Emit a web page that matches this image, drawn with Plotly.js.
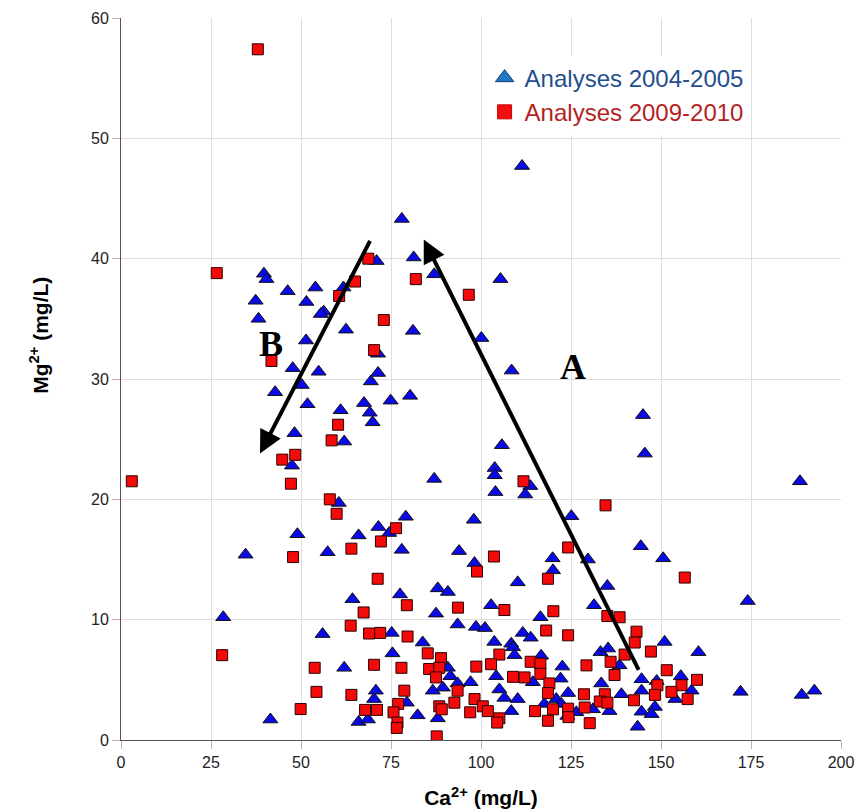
<!DOCTYPE html>
<html>
<head>
<meta charset="utf-8">
<script src="https://cdn.plot.ly/plotly-3.0.1.min.js"></script>
<style>html,body{margin:0;padding:0;background:#fff;}#chart{width:857px;height:812px;}</style>
</head>
<body>
<div id="chart"></div>
<script>
// Analyses 2004-2005 (blue triangles)
const blueCa = [111.4,78,81.3,71,87,105.4,81.1,100.1,108.5,71.4,71.4,69.4,80.3,74.9,67.5,69.1,69.9,105.8,103.8,103.8,87,113.7,104,112.3,
 39.7,40.4,46.3,54,61.8,37.4,51.5,56.3,55.5,38.2,62.5,51.4,47.7,54.9,50.2,42.8,51.8,61,48.2,62,47.5,
 60.5,49,66,71.5,34.6,57.4,64.3,28.4,56,62,70.8,70.3,41.5,66,68.6,
 79.1,74.5,98,78,93.9,98.2,119.9,120,110.2,88,90.8,77.5,87.5,102.8,116.5,93.5,98.6,101.1,111.6,113.8,75.2,83.8,103.7,108.4,108.9,75.4,109.3,116.7,90.8,122.6,104.2,91.5,122.1,114.4,97.1,93.5,89.4,86.6,105.1,124.2,106.5,110.2,79.4,120.9,117.6,124,82.4,88,108.4,
 145,145.5,188.6,125.1,144.4,129.7,150.6,135.1,131.4,151,160.4,133.2,135.3,138.5,144.6,148.8,155.5,133.4,144.6,158.5,154,139,148.3,122.3,126.5,135.7,144.6,131.1,147.4,143.5,174.1,172.1,189.1,192.6];
const blueMg = [47.7,43.3,40.1,39.8,38.7,38.3,34.0,33.4,30.7,32.1,30.5,29.8,28.6,28.2,28.0,27.2,26.4,24.5,22.6,22.0,21.7,21.1,20.6,20.4,
 38.75,38.3,37.3,37.6,37.6,36.5,36.4,35.6,35.4,35.0,34.1,33.2,30.9,30.6,29.5,28.9,27.9,27.4,25.5,24.8,22.8,
 19.7,17.1,17.0,17.7,15.4,15.6,11.7,10.2,8.8,6.0,4.1,3.4,1.7,1.5,1.7,
 18.55,17.2,18.3,15.8,15.7,14.7,15.1,14.1,13.1,12.6,12.3,12.1,10.5,11.2,10.2,9.6,9.4,9.3,8.9,8.5,8.9,8.1,8.15,8.0,7.7,7.2,7.05,7.0,6.0,6.1,5.3,5.3,5.1,4.8,4.8,4.7,4.35,4.1,4.2,3.9,3.5,3.4,3.1,3.4,3.0,2.0,2.05,1.8,2.4,
 27.0,23.8,21.5,18.6,16.1,15.0,15.1,12.8,11.2,8.15,7.3,7.3,7.6,6.2,5.05,4.9,5.3,4.7,4.1,4.1,3.4,3.8,2.75,3.0,2.3,2.4,2.35,2.55,2.15,1.1,11.55,4.0,3.75,4.1];

// Analyses 2009-2010 (red squares)
const redCa = [38,26.6,65,60.6,68.7,41.8,60.3,58.5,48.4,44.8,47.2,3,58,81.9,96.6,73,70.3,111.8,134.6,
 59.9,64,47.8,72.2,71.3,67.4,63.8,68.9,72,28.1,70.3,53.8,54.3,64,49.9,67.8,71.1,
 76.4,103.6,98.9,118.6,124.2,79.4,93.6,106.5,120.1,118.1,124.2,79.6,85.2,88.9,105.1,113.8,116.5,77.9,85.6,88.4,98.7,102.8,108.9,112.1,116.5,87.5,119,78.7,93.5,118.6,98.2,77,75.7,92.6,88.4,89.1,100.5,101.9,120,124.2,97,115,105.1,104.5,118.6,76.8,76.6,87.7,
 156.6,135.1,138.5,143.2,142.7,147.2,139.9,129.3,136,137.1,151.6,160,149,155.7,152.9,148.3,157.4,128.6,134.4,133,135.1,142.5,128.8,124.3,130.2];
const redMg = [57.4,38.8,38.1,36.9,40.0,31.5,26.2,24.9,23.7,23.3,21.3,21.5,20.0,38.3,37.0,34.9,32.4,21.5,19.5,
 18.8,15.9,15.2,16.5,13.4,10.6,9.5,8.85,8.9,7.05,6.25,6.0,4.0,3.75,2.57,2.5,2.5,
 17.6,15.25,14.0,13.4,16.0,11.2,11.0,10.8,10.7,9.1,8.7,8.6,7.2,6.8,7.1,6.5,6.35,6.0,5.9,6.0,6.1,6.3,5.25,5.2,5.5,5.2,4.7,4.1,4.1,3.9,3.4,3.0,2.3,3.1,2.8,2.55,2.8,2.4,2.55,2.6,2.3,2.4,1.8,1.45,1.6,1.45,1.0,0.3,
 13.5,10.3,10.2,9.0,8.1,7.35,7.1,6.2,6.5,5.4,5.8,5.0,4.55,4.55,4.0,3.75,3.4,3.8,3.8,3.2,3.1,3.3,2.7,1.9,1.4];

const seriesNames = ['Analyses 2004-2005','Analyses 2009-2010'];
const xTicks = [0,25,50,75,100,125,150,175,200];
const yTicks = [0,10,20,30,40,50,60];
// arrows: [headCa, headMg, tailCa, tailMg]
const arrowA = [84.1, 41.6, 144, 5.7];
const arrowB = [38.6, 23.8, 69.4, 41.6];
const labelA = [125.5, 31.0];
const labelB = [41.6, 32.9];

const traces = [
  {x: blueCa, y: blueMg, type:'scatter', mode:'markers', showlegend:false,
   marker:{symbol:'triangle-up', size:13, color:'#0a0ae6', line:{color:'#111', width:1}}},
  {x: redCa, y: redMg, type:'scatter', mode:'markers', showlegend:false,
   marker:{symbol:'square', size:11, color:'#f50a0a', line:{color:'#2a0000', width:1}}},
  // legend entries
  {x:[null], y:[null], type:'scatter', mode:'markers',
   name:'<span style="color:#1f4f8f">'+seriesNames[0]+'</span>',
   marker:{symbol:'triangle-up', size:16, color:'#1f78c0', line:{color:'#0d3a70', width:1}}},
  {x:[null], y:[null], type:'scatter', mode:'markers',
   name:'<span style="color:#b51f1f">'+seriesNames[1]+'</span>',
   marker:{symbol:'square', size:14, color:'#f01010', line:{color:'#c00', width:1}}}
];

function arrowAnn(a){
  return {x:a[0], y:a[1], ax:a[2], ay:a[3], xref:'x', yref:'y', axref:'x', ayref:'y',
    text:'', showarrow:true, arrowhead:2, arrowsize:1.15, arrowwidth:4, arrowcolor:'#000', standoff:0, startstandoff:0};
}
const serif = {family:'"Liberation Serif", "Times New Roman", serif', size:36, color:'#000'};

const layout = {
  width:857, height:812,
  paper_bgcolor:'#fff', plot_bgcolor:'#fff',
  margin:{l:121, r:16, t:18, b:72},
  font:{family:'"Liberation Sans", Arial, sans-serif', color:'#222'},
  showlegend:true,
  legend:{x:0.505, y:0.948, xanchor:'left', yanchor:'top', bgcolor:'#fff', borderwidth:0,
          font:{size:24, family:'"Liberation Sans", Arial, sans-serif'}, itemsizing:'trace', tracegroupgap:0},
  xaxis:{range:[0,200], tickvals:xTicks, ticktext:xTicks.map(String), showgrid:true, gridcolor:'#dedede',
         zeroline:false, showline:true, linecolor:'#555', linewidth:1, ticks:'outside', ticklen:8,
         tickcolor:'#d4a9a9', tickfont:{size:16, color:'#222'},
         title:{text:'<b>Ca<sup>2+</sup> (mg/L)</b>', font:{size:21, color:'#000'}, standoff:20}},
  yaxis:{range:[0,60], tickvals:yTicks, ticktext:yTicks.map(String), showgrid:true, gridcolor:'#dedede',
         zeroline:false, showline:true, linecolor:'#555', linewidth:1, ticks:'outside', ticklen:8,
         tickcolor:'#d4a9a9', tickfont:{size:16, color:'#222'}},
  annotations:[
    arrowAnn(arrowA), arrowAnn(arrowB),
    {x:labelA[0], y:labelA[1], xref:'x', yref:'y', text:'<b>A</b>', showarrow:false, font:serif},
    {x:labelB[0], y:labelB[1], xref:'x', yref:'y', text:'<b>B</b>', showarrow:false, font:serif},
    {x:-0.135, y:0.561, xref:'paper', yref:'paper', text:'<b>Mg<sup>2+</sup> (mg/L)</b>', textangle:-90,
     showarrow:false, font:{size:21, color:'#000', family:'"Liberation Sans", Arial, sans-serif'}}
  ]
};
Plotly.newPlot('chart', traces, layout, {displayModeBar:false, staticPlot:true});
</script>
</body>
</html>
